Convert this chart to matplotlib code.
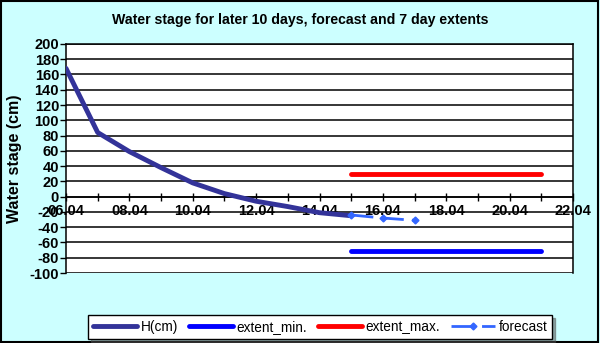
import matplotlib.pyplot as plt
from matplotlib.patches import Rectangle

plt.rcParams['font.family'] = ['Liberation Sans', 'DejaVu Sans']
plt.rcParams['axes.unicode_minus'] = False

# ============================================================================
# DATOS (día de abril)
# ============================================================================

dias_h = [6, 7, 8, 9, 10, 11, 12, 13, 14, 15]
nivel_h = [168, 84, 59, 38, 18, 4, -6, -13, -21, -25]

dias_pron = [15, 16, 17]
nivel_pron = [-24, -28, -31]

dias_ext = [15, 21]
ext_min = [-71, -71]
ext_max = [30, 30]

ticks_x = [6, 8, 10, 12, 14, 16, 18, 20, 22]
etiquetas_x = ['06.04', '08.04', '10.04', '12.04', '14.04', '16.04', '18.04', '20.04', '22.04']
ticks_y = list(range(-100, 201, 20))

# ============================================================================
# GRÁFICO
# ============================================================================

fig = plt.figure(figsize=(6, 3.43), dpi=100, facecolor='#CCFFFF')
ax = fig.add_axes([0.11, 0.204, 0.845, 0.668])
ax.set_facecolor('white')

for y in ticks_y:
    ax.axhline(y, color='black', linewidth=1.1, zorder=1)

l1, = ax.plot(dias_h, nivel_h, color='#333399', linewidth=3.5,
              solid_capstyle='round', solid_joinstyle='round', label='H(cm)', zorder=3)
l2, = ax.plot(dias_ext, ext_min, color='#0000FF', linewidth=3.5,
              solid_capstyle='round', label='extent_min.', zorder=3)
l3, = ax.plot(dias_ext, ext_max, color='#FF0000', linewidth=3.5,
              solid_capstyle='round', label='extent_max.', zorder=3)
l4, = ax.plot(dias_pron, nivel_pron, color='#3366FF', linewidth=2, dashes=(8, 3),
              marker='D', markersize=3.5, label='forecast', zorder=4)

ax.set_xlim(6, 22)
ax.set_ylim(-100, 200)
ax.set_yticks(ticks_y)
ax.set_xticks(ticks_x)
ax.set_xticklabels(etiquetas_x)
ax.set_xticks(range(6, 23), minor=True)

ax.spines['bottom'].set_position(('data', 0))
for s in ['left', 'right', 'top', 'bottom']:
    ax.spines[s].set_linewidth(1.1)

ax.tick_params(axis='x', which='both', direction='inout', length=6, width=1, pad=2)
ax.tick_params(axis='y', direction='out', length=4, width=1, pad=1)
for lab in ax.get_xticklabels() + ax.get_yticklabels():
    lab.set_fontweight('bold')
    lab.set_fontsize(10.5)

ax.set_ylabel('Water stage (cm)', fontsize=11.5, fontweight='bold')
ax.yaxis.set_label_coords(-0.087, 0.5)

fig.text(0.5, 0.942, 'Water stage for later 10 days, forecast and 7 day extents',
         ha='center', va='center', fontsize=10.2, fontweight='bold')

leg = fig.legend(handles=[l1, l2, l3, l4], loc='center', bbox_to_anchor=(0.534, 0.046),
                 ncol=4, frameon=True, fancybox=False, shadow=True, fontsize=9.8,
                 handlelength=3.2, columnspacing=0.8, handletextpad=0.3,
                 borderpad=0.35, borderaxespad=0)
leg.get_frame().set_edgecolor('black')
leg.get_frame().set_linewidth(1)

fig.patches.append(Rectangle((0.002, 0.003), 0.994, 0.994, transform=fig.transFigure,
                             fill=False, edgecolor='black', linewidth=1.5))

fig.savefig('out.png', dpi=100, facecolor=fig.get_facecolor())
